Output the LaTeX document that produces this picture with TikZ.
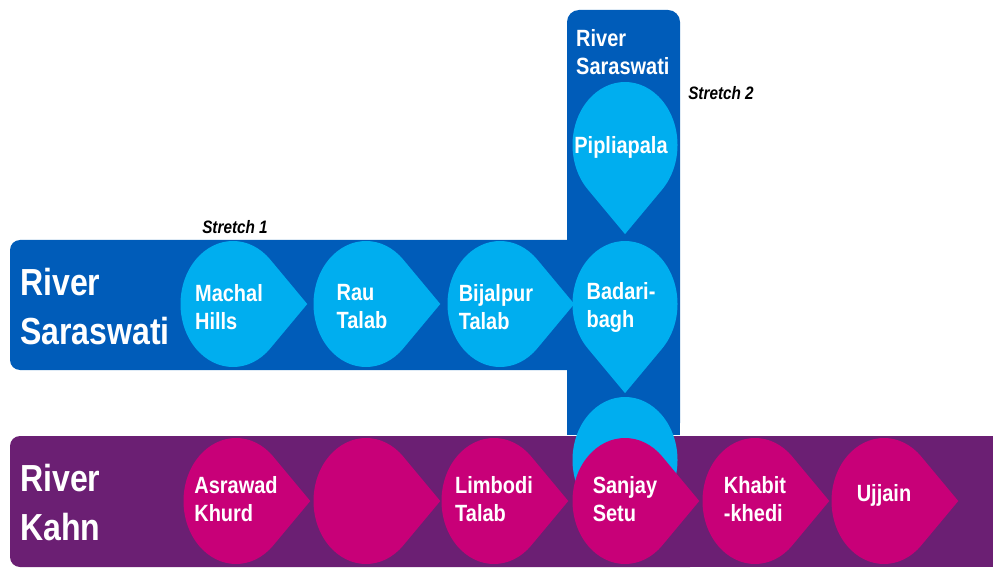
\documentclass[tikz,border=0pt]{standalone}
\usepackage{fontspec}
\setmainfont{Liberation Sans}[FakeStretch=0.85]

\definecolor{bandblue}{HTML}{005CB9}
\definecolor{dropblue}{HTML}{00AEEF}
\definecolor{bandpurple}{HTML}{6B1F73}
\definecolor{dropmagenta}{HTML}{C80078}

% drop shapes, centre given in pixels
\newcommand{\dropright}[3]{%
  \fill[#1,shift={(#2,#3)},xscale=52.5,yscale=63] (45:1) arc[start angle=45,end angle=315,radius=1] -- (1.4142,0) -- cycle;}
\newcommand{\dropdown}[3]{%
  \fill[#1,shift={(#2,#3)},xscale=52.5,yscale=63] (-45:1) arc[start angle=-45,end angle=225,radius=1] -- (0,-1.4142) -- cycle;}

\begin{document}
\begin{tikzpicture}[x=1pt,y=1pt,
    stop/.style={text=white,inner sep=0pt,align=left,font=\bfseries\fontsize{23.5}{28}\selectfont},
    river/.style={text=white,inner sep=0pt,align=left,anchor=west,font=\bfseries\fontsize{37.7}{49}\selectfont},
    stretch/.style={text=black,inner sep=0pt,font=\bfseries\itshape\fontsize{18}{20}\selectfont}]
        \useasboundingbox (0,0) rectangle (995,571);

        % bands
        \fill[bandblue,rounded corners=10] (10,201) rectangle (620,331);
        \fill[bandblue,rounded corners=12] (567,136) rectangle (680,561);
        \fill[bandblue] (567,136) rectangle (680,200);
        \fill[bandpurple,rounded corners=10] (10,4) rectangle (700,135);
        \fill[bandpurple] (600,4) rectangle (993,135);

        % river saraswati
        \dropright{dropblue}{233}{267}
        \dropright{dropblue}{366}{267}
        \dropright{dropblue}{500}{267}
        \dropdown{dropblue}{625}{426}
        \dropdown{dropblue}{625}{267}
        \dropdown{dropblue}{625}{111}

        % river kahn
        \dropright{dropmagenta}{236}{70}
        \dropright{dropmagenta}{366}{70}
        \dropright{dropmagenta}{494}{70}
        \dropright{dropmagenta}{625}{70}
        \dropright{dropmagenta}{755}{70}
        \dropright{dropmagenta}{884}{70}

        \node[river] (saraswati) at (20,264) {River\\Saraswati};
        \node[river] (kahn) at (20,68) {River\\Kahn};
        \node[stop,anchor=west] (saraswatitop) at (576,519) {River\\Saraswati};

        \node[stop] (machal) at (229,264) {Machal\\Hills};
        \node[stop] (rau) at (362,264) {Rau\\Talab};
        \node[stop] (bijalpur) at (496,264) {Bijalpur\\Talab};
        \node[stop] (badari) at (621,264) {Badari-\\bagh};
        \node[stop] (piplia) at (621,424) {Pipliapala};

        \node[stop] (asrawad) at (236,72) {Asrawad\\Khurd};
        \node[stop] (limbodi) at (494,72) {Limbodi\\Talab};
        \node[stop] (sanjay) at (625,72) {Sanjay\\Setu};
        \node[stop] (khabit) at (755,72) {Khabit\\-khedi};
        \node[stop] (ujjain) at (884,76) {Ujjain};

        \node[stretch] (stretch1) at (235,344) {Stretch 1};
        \node[stretch] (stretch2) at (721,478) {Stretch 2};
    \end{tikzpicture}
\end{document}
